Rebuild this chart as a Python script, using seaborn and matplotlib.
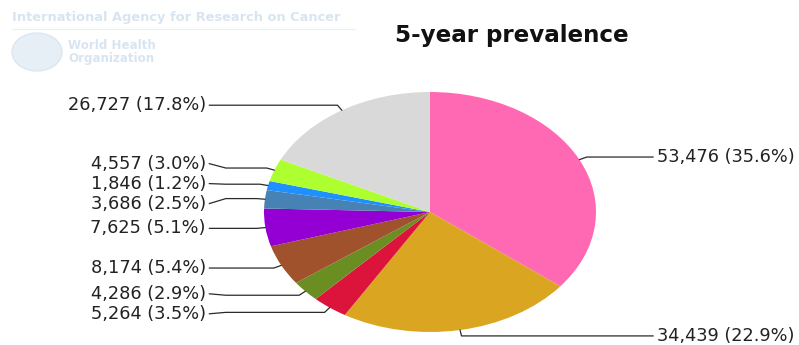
import numpy as np
import matplotlib.pyplot as plt
import seaborn as sns
from matplotlib.lines import Line2D
from matplotlib.patches import Ellipse

# DADOS DO GRAFICO (sentido horario a partir do topo)
valores = [53476, 34439, 5264, 4286, 8174, 7625, 3686, 1846, 4557, 26727]
cores = ['#FF69B4', '#DAA520', '#DC143C', '#6B8E23', '#A0522D',
         '#9400D3', '#4682B4', '#1E90FF', '#ADFF2F', '#D9D9D9']
titulo = '5-year prevalence'
marca = ['International Agency for Research on Cancer', 'World Health', 'Organization']

sns.set_theme(style='white')
plt.rcParams['font.family'] = ['DejaVu Sans']

W, H = 799, 345
fig = plt.figure(figsize=(W / 100, H / 100), dpi=100)

# ELIPSE: centro (430, 212), raios 166 x 120 px
ax = fig.add_axes([264 / W, 1 - 332 / H, 332 / W, 240 / H])
wedges, _ = ax.pie(valores, colors=sns.color_palette(cores), startangle=90,
                   counterclock=False, radius=1, wedgeprops={'linewidth': 0})
ax.set_aspect('auto')
ax.set_xlim(-1, 1)
ax.set_ylim(-1, 1)

total = sum(valores)
rotulos = ['{:,} ({:.1f}%)'.format(v, 100 * v / total) for v in valores]


def espalhar(ys, gap):
    # ys em ordem decrescente; separa rotulos que se sobrepoem
    grupos = [[y] for y in ys]
    mudou = True
    while mudou:
        mudou = False
        for i in range(len(grupos) - 1):
            a, b = grupos[i], grupos[i + 1]
            fim_a = np.mean(a) - gap * (len(a) - 1) / 2
            ini_b = np.mean(b) + gap * (len(b) - 1) / 2
            if fim_a - ini_b < gap:
                grupos[i] = a + b
                del grupos[i + 1]
                mudou = True
                break
    saida = []
    for g in grupos:
        c = np.mean(g)
        saida += [c + gap * ((len(g) - 1) / 2 - k) for k in range(len(g))]
    return saida


# PONTOS DE ANCORAGEM DOS ROTULOS
itens = []
for w, txt in zip(wedges, rotulos):
    ang = np.deg2rad((w.theta1 + w.theta2) / 2)
    itens.append((np.cos(ang), np.sin(ang), txt))

gap = 20 / 120
for lado in (-1, 1):
    grupo = sorted([it for it in itens if np.sign(it[0]) == lado], key=lambda t: -t[1])
    ys = espalhar([1.05 * it[1] for it in grupo], gap)
    for (cx, cy, txt), yl in zip(grupo, ys):
        x_txt = 1.367 if lado > 0 else -1.35
        x_lin = 1.345 if lado > 0 else -1.33
        xs = [cx, 1.05 * cx, x_lin - lado * 0.1, x_lin]
        yy = [cy, 1.05 * cy, 1.05 * cy, yl]
        ax.plot(xs, yy, color='#2a2a2a', lw=0.9, clip_on=False)
        ax.text(x_txt, yl, txt, ha='left' if lado > 0 else 'right', va='center',
                fontsize=12.8, color='#222222', clip_on=False)

# TITULO
fig.text(512 / W, 1 - 42 / H, titulo, ha='center', va='baseline',
         fontsize=16.6, fontweight='bold', color='#111111')

# MARCA D'AGUA
cor_marca = '#d8e5f1'
fig.text(12 / W, 1 - 18 / H, marca[0], ha='left', va='center', fontsize=9.4,
         fontweight='bold', color=cor_marca)
fig.add_artist(Line2D([12 / W, 355 / W], [1 - 29 / H] * 2, color='#e8eef4', lw=0.8))
fig.add_artist(Ellipse((37 / W, 1 - 52 / H), 50 / W, 38 / H, facecolor='#e6eef6',
                       edgecolor='#dbe6f1', transform=fig.transFigure))
fig.text(68 / W, 1 - 45.5 / H, marca[1], ha='left', va='center', fontsize=8.6,
         fontweight='bold', color=cor_marca)
fig.text(68 / W, 1 - 58.5 / H, marca[2], ha='left', va='center', fontsize=8.6,
         fontweight='bold', color=cor_marca)

plt.savefig('out.png', dpi=100)
